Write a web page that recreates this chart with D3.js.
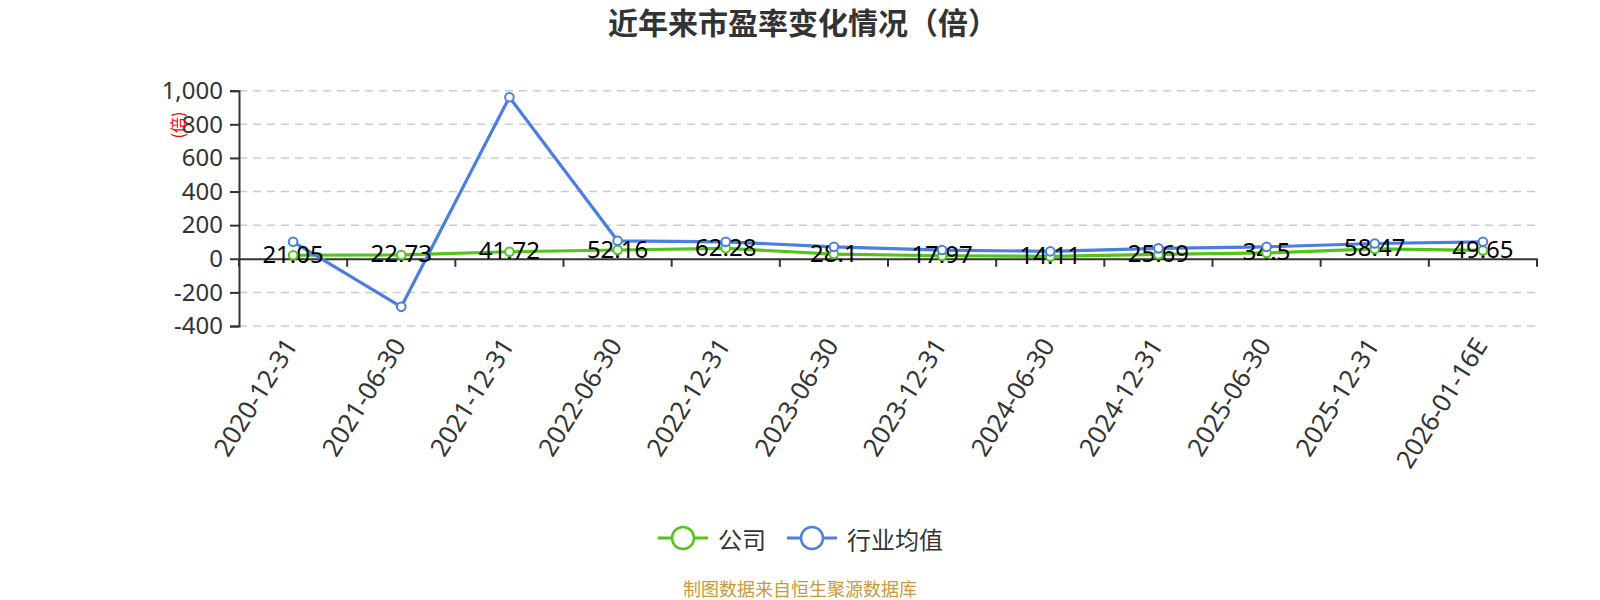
<!DOCTYPE html>
<html>
<head>
<meta charset="utf-8">
<script src="https://cdn.jsdelivr.net/npm/d3@7"></script>
<style>
  body { margin: 0; background: #fff; }
  svg { font-family: "Noto Sans", "Noto Sans CJK SC", sans-serif; }
</style>
</head>
<body>
<svg id="chart" width="1600" height="600"></svg>
<script>
// Dates de clôture
const dates = ['2020-12-31', '2021-06-30', '2021-12-31', '2022-06-30', '2022-12-31', '2023-06-30',
  '2023-12-31', '2024-06-30', '2024-12-31', '2025-06-30', '2025-12-31', '2026-01-16E'];

// Série société (valeurs affichées)
const company = [21.05, 22.73, 41.72, 52.16, 62.28, 28.1, 17.97, 14.11, 25.69, 34.5, 58.47, 49.65];

// Moyenne du secteur (estimée sur l'image)
const industry = [101, -286, 961, 107, 101, 71, 52, 44, 62, 71, 91, 101];

const yTicks = [-400, -200, 0, 200, 400, 600, 800, 1000];

const seriesNames = ['公司', '行业均值'];
const colors = ['#52c41a', '#4a7fe0'];

const svg = d3.select('#chart');

const x = d3.scaleBand().domain(dates).range([239, 1537]);
const y = d3.scaleLinear().domain([-400, 1000]).range([326, 90.7]);
const cx = (d) => x(d) + x.bandwidth() / 2;

// Format avec un tiret simple pour les négatifs
const fmt = d3.formatLocale({ decimal: '.', thousands: ',', grouping: [3], currency: ['', ''], minus: '-' }).format(',');

// Titre
svg.append('text')
  .attr('x', 803).attr('y', 34)
  .attr('text-anchor', 'middle')
  .attr('font-size', 30).attr('font-weight', 'bold')
  .attr('font-family', '"Noto Sans CJK SC", sans-serif')
  .attr('fill', '#333')
  .text('近年来市盈率变化情况（倍）');

// Grille
svg.append('g')
  .selectAll('line')
  .data(yTicks.filter((t) => t !== 0))
  .join('line')
  .attr('x1', 239).attr('x2', 1537)
  .attr('y1', (d) => y(d)).attr('y2', (d) => y(d))
  .attr('stroke', '#ccc').attr('stroke-width', 1.5)
  .attr('stroke-dasharray', '8,6');

// Axe Y
const yAxis = svg.append('g')
  .attr('transform', 'translate(239,0)')
  .call(d3.axisLeft(y).tickValues(yTicks).tickFormat(fmt).tickSize(9).tickPadding(7));
yAxis.select('.domain').attr('stroke', '#333').attr('stroke-width', 2);
yAxis.selectAll('.tick line').attr('stroke', '#333').attr('stroke-width', 2);
yAxis.selectAll('.tick text').attr('font-size', 24).attr('fill', '#333').attr('font-family', '"Noto Sans", sans-serif');

svg.append('text')
  .attr('transform', 'translate(177,125) rotate(-90)')
  .attr('text-anchor', 'middle').attr('dominant-baseline', 'central')
  .attr('font-size', 16).attr('fill', 'red')
  .attr('font-family', '"Noto Sans CJK SC", sans-serif')
  .text('(倍)');

// Axe X (à la ligne zéro)
const xAxis = svg.append('g')
  .attr('transform', `translate(0,${y(0)})`)
  .call(d3.axisBottom(x).tickSize(0).tickFormat(''));
xAxis.select('.domain').attr('stroke', '#333').attr('stroke-width', 2);

const bounds = dates.map((d) => x(d)).concat([x.range()[1]]);
svg.append('g')
  .selectAll('line')
  .data(bounds)
  .join('line')
  .attr('x1', (d) => d).attr('x2', (d) => d)
  .attr('y1', y(0)).attr('y2', y(0) + 8)
  .attr('stroke', '#333').attr('stroke-width', 2);

// Libellés des dates
svg.append('g')
  .selectAll('text')
  .data(dates)
  .join('text')
  .attr('transform', (d) => `translate(${cx(d) - 3},${y(-400) + 14}) rotate(-58)`)
  .attr('text-anchor', 'end')
  .attr('dominant-baseline', 'central')
  .attr('font-size', 25.5).attr('fill', '#333')
  .text((d) => d);

// Lignes
const line = (vals) => d3.line().x((d, i) => cx(dates[i])).y((d) => y(d))(vals);
const allSeries = [company, industry];

allSeries.forEach((vals, k) => {
  svg.append('path')
    .attr('d', line(vals))
    .attr('fill', 'none')
    .attr('stroke', colors[k])
    .attr('stroke-width', 3.2)
    .attr('stroke-linejoin', 'round');
});

// Étiquettes de la série société
svg.append('g')
  .selectAll('text')
  .data(company)
  .join('text')
  .attr('x', (d, i) => cx(dates[i]))
  .attr('y', (d) => y(d) - 2)
  .attr('text-anchor', 'middle')
  .attr('dominant-baseline', 'central')
  .attr('font-size', 24).attr('fill', '#000')
  .text((d) => d);

// Marqueurs
allSeries.forEach((vals, k) => {
  svg.append('g')
    .selectAll('circle')
    .data(vals)
    .join('circle')
    .attr('cx', (d, i) => cx(dates[i]))
    .attr('cy', (d) => y(d))
    .attr('r', 4.3)
    .attr('fill', '#fff')
    .attr('stroke', colors[k])
    .attr('stroke-width', 2);
});

// Légende
const legendX = [658, 787];
const legend = svg.append('g')
  .selectAll('g')
  .data(seriesNames)
  .join('g')
  .attr('transform', (d, i) => `translate(${legendX[i]},538)`);
legend.append('line')
  .attr('x1', 0).attr('x2', 50)
  .attr('stroke', (d, i) => colors[i]).attr('stroke-width', 3);
legend.append('circle')
  .attr('cx', 25).attr('r', 11)
  .attr('fill', '#fff')
  .attr('stroke', (d, i) => colors[i]).attr('stroke-width', 2.5);
legend.append('text')
  .attr('x', 60)
  .attr('dominant-baseline', 'central')
  .attr('font-size', 24).attr('fill', '#333')
  .attr('font-family', '"Noto Sans CJK SC", sans-serif')
  .text((d) => d);

// Source
svg.append('text')
  .attr('x', 800).attr('y', 588)
  .attr('text-anchor', 'middle').attr('dominant-baseline', 'central')
  .attr('font-size', 18).attr('fill', '#c99a35')
  .attr('font-family', '"Noto Sans CJK SC", sans-serif')
  .text('制图数据来自恒生聚源数据库');
</script>
</body>
</html>
